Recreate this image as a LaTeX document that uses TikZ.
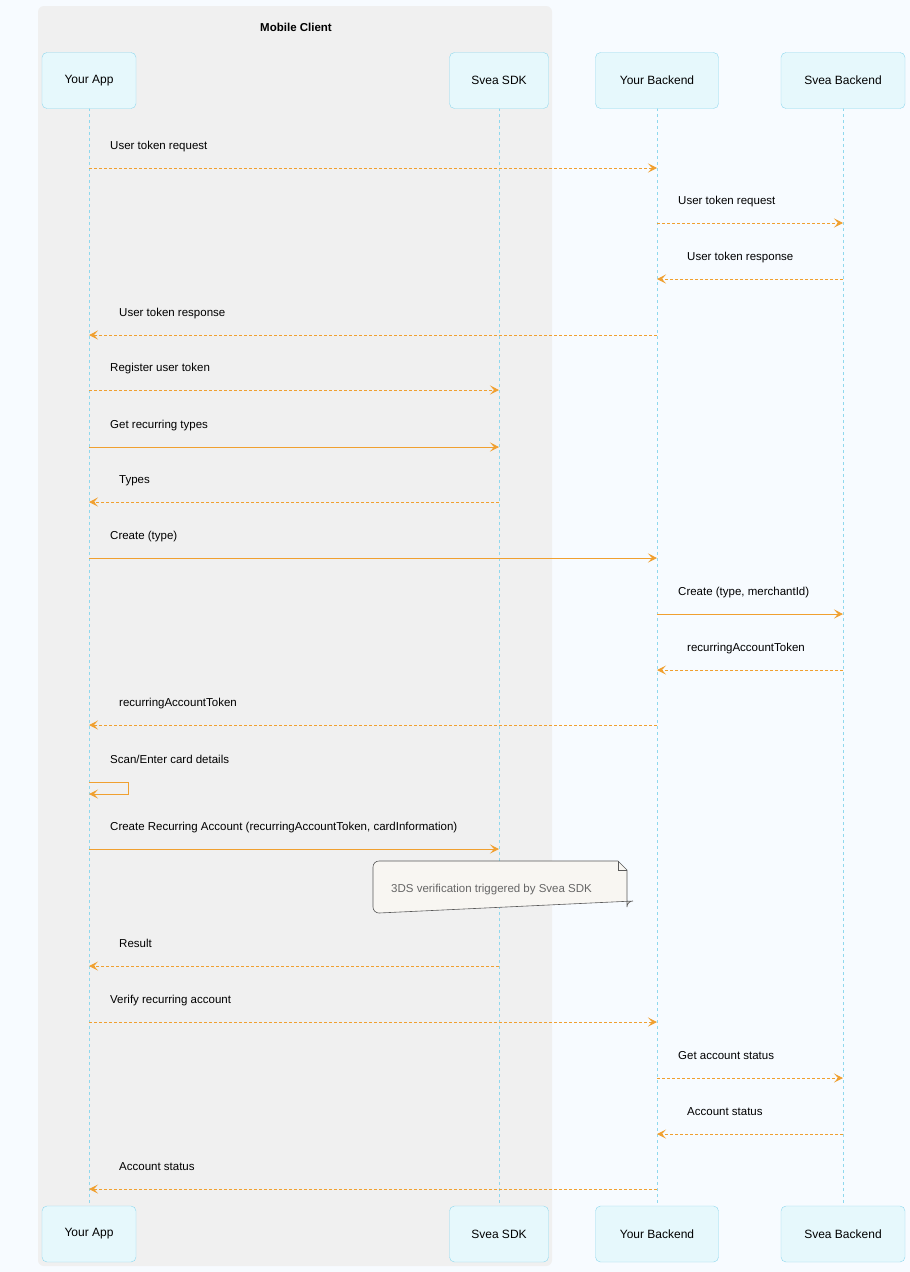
\documentclass[tikz,border=0pt]{standalone}
\usepackage{fontspec}
\setmainfont{Liberation Sans}
\usetikzlibrary{arrows.meta,shapes.misc}
\definecolor{bg}{HTML}{F7FBFF}
\definecolor{grp}{HTML}{F0F0F0}
\definecolor{pfill}{HTML}{E6F8FC}
\definecolor{pline}{HTML}{8FD8EE}
\definecolor{arr}{HTML}{F0A030}
\definecolor{notef}{HTML}{F8F6F2}
\tikzset{
  part/.style={draw=pline,fill=pfill,rounded corners=5pt,minimum height=56pt,font=\fontsize{12}{14}\selectfont,inner sep=0pt},
  life/.style={draw=pline,dashed,line width=0.8pt},
  msg/.style={draw=arr,line width=0.9pt,-{Stealth[length=9pt,width=9pt,inset=4pt]}},
  dmsg/.style={msg,dash pattern=on 3pt off 2pt},
  lbl/.style={anchor=base west,font=\fontsize{11.5}{13}\selectfont,inner sep=0pt}
}
\begin{document}
\begin{tikzpicture}[x=1pt,y=-1pt]
\fill[bg] (0,0) rectangle (910,1272);
\useasboundingbox (0,0) rectangle (910,1272);
\fill[grp,rounded corners=6pt] (38,6) rectangle (552,1266);
\node[font=\bfseries\fontsize{11.5}{13}\selectfont] (grpt) at (296,27) {Mobile Client};
% participants
\foreach \n/\x/\w/\t in {app/89/94/Your App,sdk/499/99/Svea SDK,be/657/123/Your Backend,sb/843/124/Svea Backend}{
  \draw[life] (\x,108) -- (\x,1206);
  \node[part,minimum width=\w pt] (\n) at (\x,80.5) {\t};
  \node[part,minimum width=\w pt] (\n b) at (\x,1234) {\t};
}
\foreach \n/\x in {app/89,sdk/499,be/657,sb/843}{
  \foreach \y in {168,223,279,335,390,447,502,558,614,670,725,782,794,849,966,1022,1078,1134,1189}{
    \coordinate (\n\y) at (\x,\y);
  }
}
\newcommand\mymsg[6]{% style, from, to, y, labelx, text
  \draw[#1] (#2#4) -- (#3#4);
  \node[lbl] at (#5,#4-19) {#6};
}
\mymsg{dmsg}{app}{be}{168}{110}{User token request}
\mymsg{dmsg}{be}{sb}{223}{678}{User token request}
\mymsg{dmsg}{sb}{be}{279}{687}{User token response}
\mymsg{dmsg}{be}{app}{335}{119}{User token response}
\mymsg{dmsg}{app}{sdk}{390}{110}{Register user token}
\mymsg{msg}{app}{sdk}{447}{110}{Get recurring types}
\mymsg{dmsg}{sdk}{app}{502}{119}{Types}
\mymsg{msg}{app}{be}{558}{110}{Create (type)}
\mymsg{msg}{be}{sb}{614}{678}{Create (type, merchantId)}
\mymsg{dmsg}{sb}{be}{670}{687}{recurringAccountToken}
\mymsg{dmsg}{be}{app}{725}{119}{recurringAccountToken}
\draw[msg] (app782) -- (128,782) -- (128,794) -- (app794);
\node[lbl] at (110,763) {Scan/Enter card details};
\mymsg{msg}{app}{sdk}{849}{110}{Create Recurring Account (recurringAccountToken, cardInformation)}
\draw[draw=gray!70!black,fill=notef,line width=0.6pt] (379,861) -- (618,861) -- (627,870) -- (627,907) arc (0:90:-6) -- (379,913) arc(90:180:6) -- (373,867) arc(180:270:6) -- cycle;
\draw[draw=gray!70!black,line width=0.6pt] (618,861) -- (618,870) -- (627,870);
\node[lbl,text=gray!80!black] (note) at (391,892) {3DS verification triggered by Svea SDK};
\mymsg{dmsg}{sdk}{app}{966}{119}{Result}
\mymsg{dmsg}{app}{be}{1022}{110}{Verify recurring account}
\mymsg{dmsg}{be}{sb}{1078}{678}{Get account status}
\mymsg{dmsg}{sb}{be}{1134}{687}{Account status}
\mymsg{dmsg}{be}{app}{1189}{119}{Account status}
\end{tikzpicture}
\end{document}
